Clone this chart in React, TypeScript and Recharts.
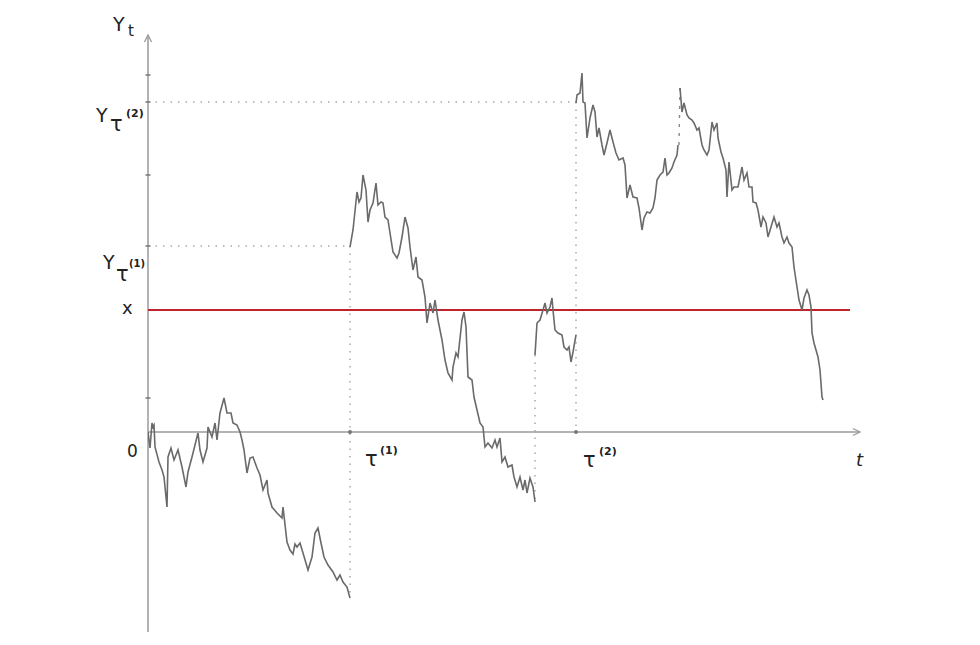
import { LineChart, Line, XAxis, YAxis, ReferenceLine, ReferenceDot } from "recharts";

// path pieces of Y_t (t, y)
const seg1 = [
  [0, 0], [2, -16], [4, 9], [5, 5], [6, 7], [7, -15], [11, -30], [14, -38], [16, -45], [19, -75],
  [20, -25], [23, -16], [26, -28], [30, -18], [34, -35], [38, -55], [40, -40], [44, -25], [47, -13],
  [50, -1], [52, -18], [55, -30], [59, -16], [60, 5], [64, -5], [67, 9], [69, -8], [72, 19], [76, 34],
  [79, 19], [83, 19], [85, 9], [89, 7], [92, 0], [94, -8], [96, -18], [99, -41], [102, -26], [105, -25],
  [109, -36], [112, -43], [115, -58], [119, -48], [120, -61], [124, -75], [129, -81], [134, -86],
  [135, -75], [139, -110], [142, -118], [145, -122], [147, -112], [149, -115], [152, -111], [155, -121],
  [160, -138], [164, -125], [167, -101], [170, -96], [173, -111], [176, -125], [180, -133], [185, -140],
  [189, -148], [192, -143], [195, -150], [199, -155], [202, -166],
].map(([t, y]) => ({ t, y }));

const seg2 = [
  [202, 185], [205, 202], [209, 240], [211, 230], [213, 234], [215, 257], [218, 242], [220, 210],
  [222, 222], [225, 229], [228, 249], [230, 227], [233, 230], [235, 229], [237, 215], [240, 212],
  [242, 199], [245, 180], [249, 174], [251, 179], [254, 195], [257, 215], [260, 204], [262, 185],
  [265, 162], [268, 175], [270, 155], [274, 152], [277, 135], [279, 109], [282, 129], [285, 119],
  [287, 132], [290, 112], [294, 92], [297, 72], [300, 59], [304, 52], [305, 65], [308, 79], [310, 75],
  [314, 112], [316, 120], [318, 105], [320, 55], [324, 52], [326, 35], [329, 22], [332, 9], [335, 5],
  [337, -15], [340, -11], [344, -16], [347, -8], [349, -15], [352, -6], [354, -30], [357, -25],
  [360, -35], [364, -33], [366, -45], [369, -55], [372, -45], [375, -58], [377, -48], [379, -61],
  [382, -46], [385, -55], [387, -70],
].map(([t, y]) => ({ t, y }));

const seg3 = [
  [387, 77], [389, 109], [392, 112], [395, 122], [397, 129], [399, 119], [402, 125], [404, 134],
  [405, 122], [407, 102], [410, 99], [414, 97], [416, 85], [419, 82], [421, 85], [423, 70], [425, 80],
  [428, 97],
].map(([t, y]) => ({ t, y }));

const seg4 = [
  [428, 329], [429, 337], [432, 339], [434, 359], [435, 330], [437, 329], [439, 294], [442, 314],
  [445, 327], [447, 320], [449, 295], [451, 304], [454, 287], [456, 277], [459, 289], [462, 302],
  [465, 290], [468, 279], [471, 272], [475, 274], [477, 267], [479, 234], [482, 247], [485, 235],
  [489, 234], [491, 224], [494, 202], [496, 214], [499, 220], [502, 219], [505, 224], [507, 234],
  [509, 252], [512, 257], [515, 260], [517, 274], [519, 257], [521, 259], [524, 264], [526, 270],
  [529, 277], [530, 287],
].map(([t, y]) => ({ t, y }));

const seg5 = [
  [532, 344], [534, 320], [536, 329], [539, 317], [541, 314], [544, 312], [546, 309], [549, 302],
  [551, 304], [554, 287], [556, 282], [559, 277], [561, 282], [564, 310], [566, 302], [569, 309],
  [570, 294], [573, 280], [575, 274], [578, 262], [579, 235], [581, 270], [584, 242], [586, 245],
  [590, 245], [592, 255], [594, 265], [596, 252], [599, 259], [601, 245], [604, 245], [605, 230],
  [608, 229], [610, 222], [613, 205], [615, 215], [618, 209], [620, 195], [623, 205], [626, 215],
  [629, 205], [631, 209], [634, 195], [636, 189], [639, 195], [641, 189], [644, 185], [646, 165],
  [649, 145], [651, 132], [654, 122], [656, 134], [659, 142], [661, 137], [663, 125], [664, 99],
  [666, 89], [670, 75], [672, 62], [674, 35], [675, 32],
].map(([t, y]) => ({ t, y }));

const segments = [seg1, seg2, seg3, seg4, seg5];

const T_MAX = 712;
const Y_MIN = -200;
const Y_MAX = 397;
const TAU1 = 202;
const TAU2 = 428;
const Y_TAU1 = 186;
const Y_TAU2 = 330;
const LEVEL_X = 122;
const RED_END = 702;
const yTicks = [357, 330, 257, 186, 34];
const tTicks = [TAU1, TAU2];

const font = "DejaVu Sans, Verdana, sans-serif";
const ink = "#222";
const axisCol = "#9a9a9a";
const dotCol = "#a8a8a8";

const txt = (x: number, y: number, s: string, size: number, extra: any = {}) => (
  <text x={x} y={y} fontSize={size} fontFamily={font} fill={ink} {...extra}>
    {s}
  </text>
);

export default function App() {
  return (
    <div style={{ position: "absolute", left: 0, top: 0, background: "#fff" }}>
      <LineChart width={980} height={645} margin={{ top: 35, right: 120, bottom: 13, left: 148 }}>
        <XAxis type="number" dataKey="t" domain={[0, T_MAX]} allowDataOverflow hide />
        <YAxis type="number" domain={[Y_MIN, Y_MAX]} allowDataOverflow hide />

        {/* dotted guides */}
        <ReferenceLine segment={[{ x: 0, y: Y_TAU1 }, { x: TAU1, y: Y_TAU1 }]} stroke={dotCol} strokeDasharray="1.5 6" strokeWidth={1.5} />
        <ReferenceLine segment={[{ x: 0, y: Y_TAU2 }, { x: TAU2, y: Y_TAU2 }]} stroke={dotCol} strokeDasharray="1.5 6" strokeWidth={1.5} />
        <ReferenceLine segment={[{ x: TAU1, y: Y_TAU1 }, { x: TAU1, y: -166 }]} stroke={dotCol} strokeDasharray="1.5 6" strokeWidth={1.5} />
        <ReferenceLine segment={[{ x: TAU2, y: Y_TAU2 }, { x: TAU2, y: 0 }]} stroke={dotCol} strokeDasharray="1.5 6" strokeWidth={1.5} />
        <ReferenceLine segment={[{ x: 387, y: 77 }, { x: 387, y: -70 }]} stroke={dotCol} strokeDasharray="1.5 6" strokeWidth={1.5} />
        <ReferenceLine segment={[{ x: 531, y: 287 }, { x: 532, y: 344 }]} stroke="#888" strokeDasharray="3 6" strokeWidth={1.4} />

        {/* axes */}
        <ReferenceLine segment={[{ x: 0, y: Y_MIN }, { x: 0, y: Y_MAX }]} stroke={axisCol} strokeWidth={1.5} />
        <ReferenceLine segment={[{ x: 0, y: 0 }, { x: T_MAX, y: 0 }]} stroke={axisCol} strokeWidth={1.5} />
        <ReferenceDot x={0} y={Y_MAX} shape={(p: any) => (
          <path d={`M${p.cx - 3.5},${p.cy + 7} L${p.cx},${p.cy} L${p.cx + 3.5},${p.cy + 7}`} stroke={axisCol} strokeWidth={1.3} fill="none" />
        )} />
        <ReferenceDot x={T_MAX} y={0} shape={(p: any) => (
          <path d={`M${p.cx - 7},${p.cy - 3.5} L${p.cx},${p.cy} L${p.cx - 7},${p.cy + 3.5}`} stroke={axisCol} strokeWidth={1.3} fill="none" />
        )} />
        {yTicks.map((v) => (
          <ReferenceDot key={"y" + v} x={0} y={v} shape={(p: any) => (
            <path d={`M${p.cx - 2.5},${p.cy} H${p.cx + 2.5}`} stroke="#777" strokeWidth={1.5} />
          )} />
        ))}
        {tTicks.map((v) => (
          <ReferenceDot key={"t" + v} x={v} y={0} shape={(p: any) => (
            <circle cx={p.cx} cy={p.cy} r={2} fill="#777" />
          )} />
        ))}

        {/* level x */}
        <ReferenceLine segment={[{ x: 0, y: LEVEL_X }, { x: RED_END, y: LEVEL_X }]} stroke="#c0232b" strokeWidth={2} />

        {segments.map((seg, i) => (
          <Line
            key={i}
            data={seg}
            dataKey="y"
            type="linear"
            stroke="#6a6a6a"
            strokeWidth={1.6}
            dot={false}
            activeDot={false}
            isAnimationActive={false}
          />
        ))}

        {/* labels */}
        <ReferenceDot x={0} y={Y_MAX} shape={(p: any) => (
          <g>
            {txt(p.cx - 35, p.cy - 4, "Y", 19)}
            {txt(p.cx - 20, p.cy + 1, "t", 15)}
          </g>
        )} />
        <ReferenceDot x={0} y={Y_TAU2} shape={(p: any) => (
          <g>
            {txt(p.cx - 52, p.cy + 20, "Y", 19)}
            {txt(p.cx - 38, p.cy + 29, "τ", 21)}
            {txt(p.cx - 22, p.cy + 15, "(2)", 11, { fontWeight: "bold" })}
          </g>
        )} />
        <ReferenceDot x={0} y={Y_TAU1} shape={(p: any) => (
          <g>
            {txt(p.cx - 45, p.cy + 23, "Y", 19)}
            {txt(p.cx - 32, p.cy + 35, "τ", 21)}
            {txt(p.cx - 19, p.cy + 21, "(1)", 10, { fontWeight: "bold" })}
          </g>
        )} />
        <ReferenceDot x={0} y={LEVEL_X} shape={(p: any) => txt(p.cx - 26, p.cy + 4, "x", 18)} />
        <ReferenceDot x={0} y={0} shape={(p: any) => txt(p.cx - 21, p.cy + 25, "0", 17)} />
        <ReferenceDot x={TAU1} y={0} shape={(p: any) => (
          <g>
            {txt(p.cx + 15, p.cy + 34, "τ", 21)}
            {txt(p.cx + 30, p.cy + 22, "(1)", 11, { fontWeight: "bold" })}
          </g>
        )} />
        <ReferenceDot x={TAU2} y={0} shape={(p: any) => (
          <g>
            {txt(p.cx + 7, p.cy + 35, "τ", 21)}
            {txt(p.cx + 23, p.cy + 23, "(2)", 11, { fontWeight: "bold" })}
          </g>
        )} />
        <ReferenceDot x={T_MAX} y={0} shape={(p: any) => txt(p.cx - 4, p.cy + 34, "t", 18, { fontStyle: "italic" })} />
      </LineChart>
    </div>
  );
}
